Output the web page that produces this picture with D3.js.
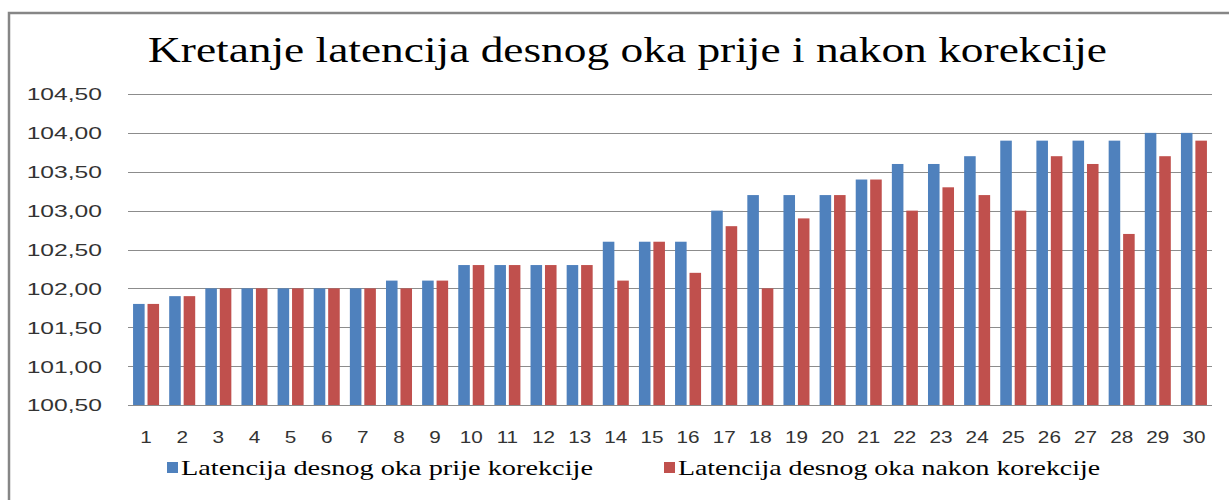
<!DOCTYPE html>
<html><head><meta charset="utf-8">
<script src="https://cdn.jsdelivr.net/npm/d3@7"></script>
<style>body{margin:0;background:#fff}svg{display:block}
.serif{font-family:"Liberation Serif","Tinos","Noto Serif","DejaVu Serif","FreeSerif","Times New Roman",Times,serif}
.sans{font-family:"Liberation Sans",Arial,sans-serif}</style>
</head><body>
<svg id="c" width="1229" height="500"></svg>
<script>
const categories = ["1","2","3","4","5","6","7","8","9","10","11","12","13","14","15","16","17","18","19","20","21","22","23","24","25","26","27","28","29","30"];
const seriesNames = ["Latencija desnog oka prije korekcije","Latencija desnog oka nakon korekcije"];
const prije = [101.8,101.9,102.0,102.0,102.0,102.0,102.0,102.1,102.1,102.3,102.3,102.3,102.3,102.6,102.6,102.6,103.0,103.2,103.2,103.2,103.4,103.6,103.6,103.7,103.9,103.9,103.9,103.9,104.0,104.0];
const nakon = [101.8,101.9,102.0,102.0,102.0,102.0,102.0,102.0,102.1,102.3,102.3,102.3,102.3,102.1,102.6,102.2,102.8,102.0,102.9,103.2,103.4,103.0,103.3,103.2,103.0,103.7,103.6,102.7,103.7,103.9];
const yTicks = [100.5,101.0,101.5,102.0,102.5,103.0,103.5,104.0,104.5];
const titleText = "Kretanje latencija desnog oka prije i nakon korekcije";
const colors = ["#4F81BD","#C0504D"];

const svg = d3.select("#c");
const L = 128, R = 1212, T = 94, B = 405;
const x = d3.scaleBand().domain(categories).range([L, R]).paddingInner(0.28).paddingOuter(0.14);
const xi = d3.scaleBand().domain([0,1]).range([0, x.bandwidth()]).paddingInner(0.2);
const y = d3.scaleLinear().domain([100.5, 104.5]).range([B, T]);
const fmt = v => d3.format(".2f")(v).replace(".", ",");

// frame
svg.append("path").attr("d", `M9,500 V13 H1229`).attr("fill","none").attr("stroke","#868686").attr("stroke-width",2.5);

// title
svg.append("text").attr("class","serif").attr("x", 148).attr("y", 62)
  .attr("font-size", 36).attr("fill","#000").attr("textLength", 959).attr("lengthAdjust","spacingAndGlyphs")
  .text(titleText);

// grid
svg.append("g").selectAll("line").data(yTicks).join("line")
  .attr("x1", L).attr("x2", R).attr("y1", d => Math.round(y(d))+0.5).attr("y2", d => Math.round(y(d))+0.5)
  .attr("stroke","#8c8c8c").attr("stroke-width",1);

// y axis
const sx = 1.45;
const ya = svg.append("g").attr("transform", `translate(${L},0)`)
  .call(d3.axisLeft(y).tickValues(yTicks).tickFormat(fmt).tickSize(0).tickPadding(0));
ya.select(".domain").remove();
ya.attr("font-family", null);
ya.selectAll("text").attr("class","sans").attr("font-size",17)
  .attr("fill","#333").attr("transform",`scale(${sx},1)`).attr("x", -26/sx).attr("dy","0.35em");

// bars
const series = [prije, nakon];
series.forEach((vals, si) => {
  svg.append("g").selectAll("rect").data(vals).join("rect")
    .attr("x", (d,i) => x(categories[i]) + xi(si))
    .attr("width", xi.bandwidth())
    .attr("y", d => y(d))
    .attr("height", d => y(100.5) - y(d))
    .attr("fill", colors[si]);
});

// baseline
svg.append("line").attr("x1",L).attr("x2",R).attr("y1",B+0.5).attr("y2",B+0.5).attr("stroke","#8c8c8c");

// x axis
const xa = svg.append("g").attr("transform", `translate(0,${B})`)
  .call(d3.axisBottom(x).tickSize(0).tickPadding(0));
xa.select(".domain").remove();
xa.attr("font-family", null);
xa.selectAll(".tick text").attr("class","sans").attr("font-size",17)
  .attr("fill","#333").attr("transform",`scale(1.22,1)`).attr("y", 38).attr("dy", 0);

// legend
const legX = [167, 664];
const legLen = [412, 422];
seriesNames.forEach((n, i) => {
  svg.append("rect").attr("x", legX[i]).attr("y", 462).attr("width", 11).attr("height", 11).attr("fill", colors[i]);
  svg.append("text").attr("class","serif").attr("x", legX[i] + 14).attr("y", 475)
    .attr("font-size", 21).attr("fill","#000").attr("textLength", legLen[i]).attr("lengthAdjust","spacingAndGlyphs").text(n);
});
</script>
</body></html>
